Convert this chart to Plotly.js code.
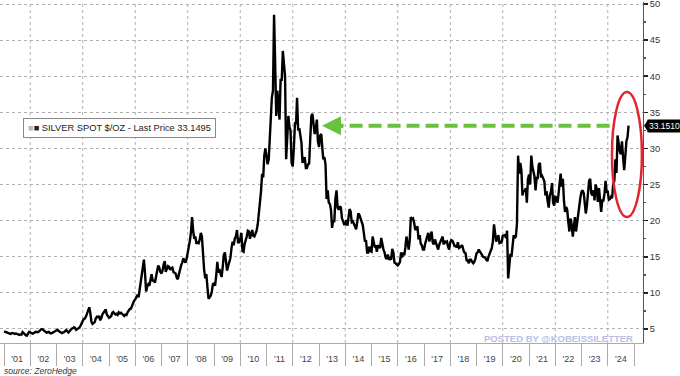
<!DOCTYPE html>
<html>
<head>
<meta charset="utf-8">
<script src="https://cdn.plot.ly/plotly-3.0.1.min.js"></script>
<style>html,body{margin:0;padding:0;background:#fff;}#chart{width:680px;height:376px;}</style>
</head>
<body>
<div id="chart"></div>
<script>
// Silver spot $/oz, sampled on the 1st and 16th of each month
const years = [2001,2002,2003,2004,2005,2006,2007,2008,2009,2010,2011,2012,2013,2014,2015,2016,2017,2018,2019,2020,2021,2022,2023,2024];
const s2001 = [4.68,4.62,4.55,4.48,4.42,4.35,4.32,4.40,4.45,4.38,4.32,4.38,4.30,4.22,4.18,4.25,4.22,4.58,4.35,4.28,4.12,4.08,4.35,4.60];
const s2002 = [4.55,4.45,4.35,4.42,4.50,4.62,4.58,4.55,4.65,4.82,4.95,4.98,4.85,4.78,4.55,4.50,4.55,4.60,4.45,4.38,4.45,4.52,4.60,4.72];
const s2003 = [4.80,4.90,4.72,4.60,4.55,4.42,4.52,4.55,4.70,4.85,4.65,4.52,4.70,4.95,5.05,5.10,5.25,5.15,4.88,4.95,5.05,5.20,5.45,5.90];
const s2004 = [6.10,6.40,6.45,6.75,7.10,7.45,8.00,7.20,6.00,5.70,5.85,5.95,6.45,6.70,6.65,6.80,6.20,6.50,7.05,7.30,7.40,7.70,7.00,6.70];
const s2005 = [6.55,6.65,6.80,7.25,7.35,7.15,7.00,7.10,6.95,7.30,7.15,7.25,7.10,6.95,6.80,7.00,6.95,7.30,7.60,7.75,7.80,8.15,8.70,8.90];
const s2006 = [9.10,9.50,9.75,9.40,10.30,11.00,12.00,13.50,14.60,12.80,10.20,10.90,11.20,11.00,12.10,12.60,11.60,11.80,11.40,12.30,12.90,13.80,13.50,12.90];
const s2007 = [12.70,13.10,14.00,14.40,12.90,13.30,13.70,13.60,13.20,13.40,13.50,12.90,12.80,12.70,12.10,11.90,12.60,13.40,13.80,14.20,14.80,14.40,14.20,14.70];
const s2008 = [15.50,16.50,17.30,18.50,20.50,18.60,17.50,17.80,16.80,17.00,16.90,17.40,18.30,17.80,14.80,13.20,12.00,12.60,10.80,9.20,9.40,9.60,10.20,11.20];
const s2009 = [11.30,11.00,12.50,14.30,12.80,13.30,12.70,12.20,13.50,15.20,15.60,14.20,13.10,13.70,14.20,14.80,16.20,17.10,16.60,17.50,17.80,18.70,17.00,17.00];
const s2010 = [17.50,18.30,15.80,15.70,16.70,17.20,17.80,18.60,18.50,17.50,18.20,18.70,17.90,17.80,18.20,18.60,19.50,20.80,22.00,24.00,26.50,26.00,29.00,30.00];
const s2011 = [29.00,27.80,28.50,31.50,34.00,37.00,38.00,48.50,42.00,34.50,38.00,35.00,34.00,39.50,39.50,43.50,41.50,40.00,28.50,31.50,34.50,33.00,32.50,28.00];
const s2012 = [27.50,30.00,33.50,33.50,37.00,32.50,32.80,31.80,30.80,28.00,28.50,28.80,27.30,27.30,27.80,27.90,31.50,34.50,34.80,33.00,32.00,32.50,34.00,31.00];
const s2013 = [30.20,31.80,32.00,30.00,28.50,28.80,27.80,23.00,24.20,22.50,22.30,21.50,19.00,20.00,19.80,23.00,24.20,21.80,21.50,22.00,21.80,20.30,19.80,19.50];
const s2014 = [19.50,20.10,19.30,20.50,21.60,21.30,19.80,19.90,19.60,19.30,18.80,19.80,21.00,20.80,20.30,19.60,19.40,18.30,17.10,17.30,15.60,15.60,16.40,15.80];
const s2015 = [15.70,17.80,17.20,16.30,16.60,15.70,16.60,16.30,16.20,17.60,16.60,16.00,15.60,14.90,14.70,15.30,14.60,14.80,14.60,16.10,15.60,14.20,14.10,13.90];
const s2016 = [13.80,14.00,14.30,15.60,14.90,15.60,15.20,16.30,17.80,17.00,16.00,17.30,20.50,20.20,20.30,19.70,18.70,19.00,19.20,17.40,18.00,16.80,16.60,16.00];
const s2017 = [16.00,16.80,17.50,18.00,18.30,17.10,18.20,18.50,17.00,16.70,17.40,16.90,16.60,16.00,16.70,17.00,17.50,17.80,16.70,17.20,17.00,17.10,16.40,16.00];
const s2018 = [17.00,17.30,17.20,16.60,16.50,16.50,16.30,17.00,16.20,16.30,16.40,16.60,16.00,15.60,15.50,14.50,14.50,14.10,14.60,14.60,14.30,14.10,14.30,14.70];
const s2019 = [15.50,15.60,16.00,15.80,15.60,15.30,15.00,14.90,14.90,14.60,14.40,15.00,15.30,15.80,16.20,17.10,19.50,17.80,17.10,17.60,18.00,16.90,16.90,17.00];
const s2020 = [17.90,18.00,18.00,17.60,18.60,12.00,14.20,15.40,15.00,16.20,18.00,17.60,17.80,19.50,29.00,26.50,28.00,27.00,23.50,24.20,24.00,24.50,22.50,25.70];
const s2021 = [26.40,25.00,29.00,27.50,26.60,26.20,24.20,25.90,25.90,27.80,28.00,26.00,26.20,25.80,25.50,23.50,24.10,22.70,21.80,23.50,24.00,25.20,22.50,22.10];
const s2022 = [23.30,23.20,22.50,23.80,25.00,26.50,24.70,25.80,22.80,21.20,21.90,21.50,19.80,18.50,20.30,19.50,17.80,19.30,20.50,18.50,19.80,21.50,22.70,23.20];
const s2023 = [24.00,24.20,23.80,21.80,21.00,22.00,24.20,25.50,25.80,23.80,23.50,24.20,22.80,25.00,24.40,22.60,24.50,23.10,21.20,22.80,22.80,23.70,25.50,24.00];
const s2024 = [24.00,22.90,23.00,23.30,23.10,25.00,25.50,28.50,26.60,31.80,30.40,29.60,29.20,31.00,28.80,27.00,28.90,31.00,31.50,33.15];
const seriesByYear = [s2001,s2002,s2003,s2004,s2005,s2006,s2007,s2008,s2009,s2010,s2011,s2012,s2013,s2014,s2015,s2016,s2017,s2018,s2019,s2020,s2021,s2022,s2023,s2024];

const tickLabels = ["'01","'02","'03","'04","'05","'06","'07","'08","'09","'10","'11","'12","'13","'14","'15","'16","'17","'18","'19","'20","'21","'22","'23","'24"];
const legendPrice = "33.1495";
const lastPrice = 33.151;
const lastPriceLabel = "33.1510";
const ellipseLow = 20.5, ellipseHigh = 37.8;
const arrowTipDate = '2013-02-11', arrowEndDate = '2024-03-01';
const ellipseX0 = '2024-02-28', ellipseX1 = '2025-04-20';

const pad = n => (n < 10 ? '0' : '') + n;
const dates = [], values = [];
years.forEach((yr, k) => {
  seriesByYear[k].forEach((v, i) => {
    dates.push(yr + '-' + pad(Math.floor(i / 2) + 1) + '-' + (i % 2 ? '16' : '01'));
    values.push(v);
  });
});
const midYears = years.map(y => y + '-07-02');
const yearStarts = years.concat([years[years.length - 1] + 1]).map(y => y + '-01-01');
const gridYears = years.filter(y => y % 2 === 0);

const font = 'Liberation Sans, Arial, sans-serif';
const green = '#69c13e';

const shapes = gridYears.map(y => ({
  type: 'line', xref: 'x', yref: 'paper', x0: y + '-01-01', x1: y + '-01-01', y0: 0, y1: 1,
  line: {color: '#b0b0b0', width: 1, dash: 'dot'}, layer: 'below'
}));
shapes.push({
  type: 'line', xref: 'x', yref: 'y', x0: '2013-06-10', x1: arrowEndDate, y0: lastPrice, y1: lastPrice,
  line: {color: green, width: 4, dash: '13px,6px'}
});
shapes.push({
  type: 'circle', xref: 'x', yref: 'y', x0: ellipseX0, x1: ellipseX1, y0: ellipseLow, y1: ellipseHigh,
  line: {color: '#e3262e', width: 2.5}
});
shapes.push({
  type: 'path', xref: 'paper', yref: 'y', xsizemode: 'pixel', ysizemode: 'pixel',
  xanchor: 1, yanchor: lastPrice, path: 'M 1 0 L 5 6 L 5 -6 Z',
  fillcolor: '#000', line: {width: 0}
});

const annotations = [
  {xref: 'x', yref: 'y', x: arrowTipDate, y: lastPrice, ax: 22, ay: 0, text: '', showarrow: true,
   arrowhead: 2, arrowsize: 0.95, arrowwidth: 4, arrowcolor: green},
  {xref: 'paper', yref: 'y', x: 1, y: lastPrice, xanchor: 'left', yanchor: 'middle', xshift: 4,
   text: lastPriceLabel, showarrow: false, bgcolor: '#000', borderpad: 1,
   font: {family: font, size: 8.5, color: '#fff'}},
  {xref: 'paper', yref: 'paper', x: 23 / 643, y: 1 - 125.5 / 341, xanchor: 'left', yanchor: 'middle',
   text: "<span style='color:#bbb'>■</span>■ SILVER SPOT $/OZ - Last Price " + legendPrice,
   showarrow: false, bgcolor: '#fff', bordercolor: '#8a8a8a', borderwidth: 1, borderpad: 4,
   font: {family: font, size: 9.3, color: '#222'}},
  {xref: 'paper', yref: 'paper', x: 635 / 643, y: 1 - 336 / 341, xanchor: 'right', yanchor: 'middle',
   text: '<b>POSTED BY @KOBEISSILETTER</b>', showarrow: false,
   font: {family: font, size: 9.5, color: '#b7c2e4'}},
  {xref: 'paper', yref: 'paper', x: 2 / 643, y: -(371 - 343) / 341, xanchor: 'left', yanchor: 'middle',
   text: '<i>source: ZeroHedge</i>', showarrow: false,
   font: {family: font, size: 8.5, color: '#333'}}
];

const trace = {
  x: dates, y: values, type: 'scatter', mode: 'lines',
  line: {color: '#000', width: 2.4}, hoverinfo: 'skip'
};

const layout = {
  width: 680, height: 376,
  margin: {l: 0, r: 37, t: 2, b: 33},
  paper_bgcolor: '#fff', plot_bgcolor: '#fff',
  showlegend: false,
  font: {family: font},
  xaxis: {
    type: 'date', range: ['2000-11-06', '2025-05-05'],
    tickmode: 'array', tickvals: midYears, ticktext: tickLabels,
    ticks: 'outside', ticklen: 7, tickcolor: 'rgba(0,0,0,0)',
    tickfont: {family: font, size: 9, color: '#444'},
    showgrid: false, zeroline: false,
    showline: true, linecolor: '#aaa', linewidth: 1,
    minor: {tickmode: 'array', tickvals: yearStarts, ticks: 'outside', ticklen: 22, tickcolor: '#aaa', tickwidth: 1, showgrid: false}
  },
  yaxis: {
    side: 'right', range: [3.06, 50.28],
    tickmode: 'linear', tick0: 5, dtick: 5,
    ticks: 'outside', ticklen: 4, tickcolor: '#222', tickwidth: 1.5,
    ticklabeloverflow: 'allow',
    tickfont: {family: font, size: 9.3, color: '#333'},
    showgrid: true, gridcolor: '#b0b0b0', griddash: 'dot', gridwidth: 1,
    zeroline: false, showline: true, linecolor: '#555', linewidth: 1,
    minor: {dtick: 2.5, ticks: 'outside', ticklen: 2, tickcolor: '#555', showgrid: false}
  },
  shapes: shapes,
  annotations: annotations
};

Plotly.newPlot('chart', [trace], layout, {staticPlot: true, displayModeBar: false});
</script>
</body>
</html>
